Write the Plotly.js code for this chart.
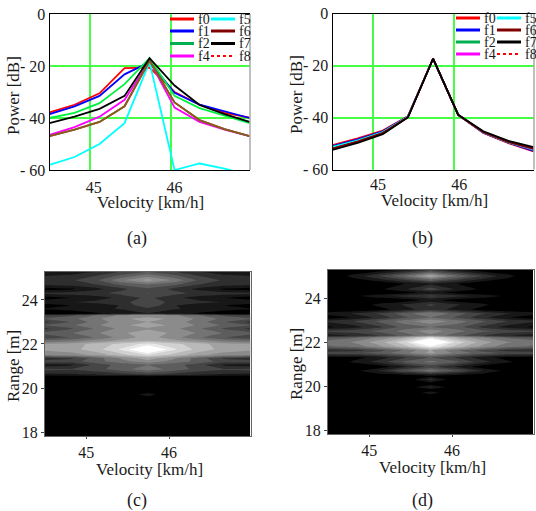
<!DOCTYPE html>
<html><head><meta charset="utf-8">
<script src="https://cdn.plot.ly/plotly-3.0.1.min.js"></script>
<style>html,body{margin:0;padding:0;background:#fff}</style></head>
<body><div id="chart" style="width:536px;height:511px"></div>
<script>
const velocity = [44.5,44.81,45.12,45.43,45.74,46.05,46.36,46.67,46.98];
const seriesNames = ['f0','f1','f2','f4','f5','f6','f8','f7'];
const legendColors = ['#ff0000','#0000ff','#00b050','#ff00ff','#00ffff','#800000','#ff0000','#000000'];
const lineColors = ['#ff0000','#0000ff','#00f040','#ff00ff','#00ffff','#8a5a20','#8a5a20','#000000'];
const legendOrder = ['f0','f5','f1','f6','f2','f7','f4','f8'];
const a_f0 = [-37.8,-34.9,-30.5,-20.8,-20.6,-30,-34.9,-38,-39.9];
const a_f1 = [-38.5,-35.5,-31.5,-23.2,-18.5,-30.3,-34.9,-37.5,-40];
const a_f2 = [-40,-38,-34.3,-27,-17,-31.5,-36.2,-39.2,-42];
const a_f4 = [-46.5,-43.5,-39.5,-33,-18,-36,-41.5,-44.5,-47];
const a_f5 = [-58,-55,-50,-42,-18.5,-60,-57.5,-59.5,-62];
const a_f6 = [-47,-44.5,-41.5,-35.5,-18,-34,-40.8,-44.3,-47];
const a_f8 = [-47,-44.5,-41.5,-35.5,-18,-34,-40.8,-44.3,-47];
const a_f7 = [-42,-39.5,-36.5,-31.5,-17,-27.5,-35,-38.5,-41.5];
const b_f0 = [-50.6,-48,-45,-39.5,-17.4,-39,-45.9,-49.9,-53];
const b_f1 = [-51,-48.4,-45.3,-39.6,-17.4,-39,-45.8,-49.7,-52.8];
const b_f2 = [-51.3,-48.8,-45.6,-39.7,-17.4,-39,-45.7,-49.6,-52.5];
const b_f4 = [-51.6,-49,-45.8,-39.8,-17.4,-39,-45.7,-49.5,-52.4];
const b_f5 = [-51.4,-48.9,-45.7,-39.7,-17.4,-39,-45.7,-49.5,-52.2];
const b_f6 = [-52,-49.3,-46,-39.9,-17.4,-39,-45.6,-49.4,-52];
const b_f8 = [-52,-49.3,-46,-39.9,-17.4,-39,-45.6,-49.4,-52];
const b_f7 = [-52.5,-49.8,-46.4,-40,-17.4,-38.9,-45.3,-49,-51.4];
const powerTickVals = [0,-20,-40,-60];
const powerTickText = ['0','- 20','- 40','- 60'];
const velocityTicks = [45,46];
const rangeTicks = [18,20,22,24];
const captions = ['(a)','(b)','(c)','(d)'];

const c_range = [17.8,19.5,19.7,19.9,20.5,20.62,20.85,21.05,21.2,21.35,21.5,21.75,22.0,22.15,22.3,22.5,22.7,22.85,23.0,23.15,23.3,23.38,23.6,23.75,23.9,24.1,24.3,24.5,24.7,24.9,25.1,25.3];
const c_z = [
[0,0,0,0,0,0,0,0,0],
[0,0,0,0,0,0,0,0,0],
[0,0,0,0,32,0,0,0,0],
[0,0,0,0,0,0,0,0,0],
[0,0,0,0,0,0,0,0,0],
[38,40,48,58,72,58,48,40,38],
[72,68,80,105,125,105,80,68,72],
[30,38,75,100,112,100,75,38,30],
[78,78,105,125,150,125,105,78,78],
[50,62,100,140,170,140,100,62,50],
[135,145,165,195,225,195,165,145,135],
[165,172,195,232,300,232,195,172,165],
[160,168,190,212,235,212,190,168,160],
[115,125,145,165,180,165,145,125,115],
[72,90,115,145,168,145,115,90,72],
[98,110,132,155,168,155,132,110,98],
[60,85,115,142,155,142,115,85,60],
[92,108,132,152,172,152,132,108,92],
[60,90,122,148,158,148,122,90,60],
[92,105,130,155,165,155,130,105,92],
[70,82,112,140,150,140,112,82,70],
[0,8,16,28,42,28,16,8,0],
[22,26,36,46,60,46,36,26,22],
[8,20,30,45,85,45,30,20,8],
[36,42,50,62,75,62,50,42,36],
[8,20,32,50,72,50,32,20,8],
[50,54,60,75,90,75,60,54,50],
[8,16,36,60,85,60,36,16,8],
[48,54,66,95,112,95,66,54,48],
[58,62,85,132,165,132,85,62,58],
[42,48,66,96,125,96,66,48,42],
[18,24,42,66,85,66,42,24,18]
];

const d_range = [17.8,19.5,19.7,19.82,19.95,20.1,20.3,20.45,20.7,20.88,21.1,21.3,21.5,21.62,21.8,22.0,22.2,22.3,22.5,22.68,22.95,23.12,23.3,23.48,23.7,23.9,24.1,24.25,24.4,24.65,25.0,25.3];
const d_z = [
[0,0,0,0,0,0,0,0,0],
[0,0,0,0,0,0,0,0,0],
[0,0,0,0,30,0,0,0,0],
[0,0,0,0,5,0,0,0,0],
[0,0,0,0,48,0,0,0,0],
[0,0,0,0,5,0,0,0,0],
[0,0,0,0,52,0,0,0,0],
[0,0,0,0,10,0,0,0,0],
[0,12,45,88,125,88,45,12,0],
[0,0,5,40,72,40,5,0,0],
[0,25,55,95,120,95,55,25,0],
[5,10,30,62,90,62,30,10,5],
[85,85,102,130,165,130,102,85,85],
[50,56,80,115,160,115,80,56,50],
[108,120,152,195,250,195,152,120,108],
[125,138,172,222,320,222,172,138,125],
[95,108,140,178,235,178,140,108,95],
[32,44,66,98,130,98,66,44,32],
[72,80,98,122,150,122,98,80,72],
[15,32,60,98,112,98,60,32,15],
[50,66,95,125,155,125,95,66,50],
[5,22,50,85,112,85,50,22,5],
[30,46,70,102,135,102,70,46,30],
[0,0,10,34,56,34,10,0,0],
[0,0,28,46,70,46,28,0,0],
[0,0,0,8,28,8,0,0,0],
[0,16,36,52,72,52,36,16,0],
[0,0,0,10,28,10,0,0,0],
[0,0,16,42,80,42,16,0,0],
[0,0,0,20,38,20,0,0,0],
[0,28,68,115,180,115,68,28,0],
[0,0,0,22,55,22,0,0,0]
];

const W=536,H=511;
const serif='"Liberation Serif","Times New Roman",serif';
const grid={a:[49.5,250,14,170],b:[332.5,534,13.5,169.5],c:[45,251,272,436],d:[328,534,269.5,434]};
const dom=(g)=>({x:[g[0]/W,g[1]/W],y:[1-g[3]/H,1-g[2]/H]});
const tickFont={family:serif,size:16,color:'#1a1a1a'};
const titleFont={family:serif,size:17,color:'#1a1a1a'};

function lineAxes(g,xshift,standoff){
  const d=dom(g);
  return [{domain:d.x,range:[44.5,46.985],tickvals:velocityTicks,ticktext:velocityTicks.map(String),ticks:'',showgrid:true,gridcolor:'#44ff44',gridwidth:1.5,zeroline:false,showline:true,mirror:true,linecolor:'#000',linewidth:1,tickfont:tickFont,ticklabelshift:xshift,ticklabelstandoff:standoff},
  {domain:d.y,range:[-60,0],tickvals:powerTickVals,ticktext:powerTickText,ticks:'',showgrid:true,gridcolor:'#44ff44',gridwidth:1.5,zeroline:false,showline:true,linecolor:'#000',linewidth:1,tickfont:tickFont,ticklabelstandoff:0}];
}
function mapAxes(g,yr){
  const d=dom(g);
  return [{domain:d.x,range:[44.5,46.99],tickvals:velocityTicks,ticktext:velocityTicks.map(String),ticks:'outside',ticklen:2,tickcolor:'#444',showgrid:false,zeroline:false,showline:true,mirror:true,linecolor:'#666',linewidth:1,tickfont:tickFont},
  {domain:d.y,range:yr,tickvals:rangeTicks,ticktext:rangeTicks.map(String),ticks:'outside',ticklen:3,tickcolor:'#444',showgrid:false,zeroline:false,showline:true,mirror:true,linecolor:'#666',linewidth:1,tickfont:tickFont}];
}
const [xa,ya]=lineAxes(grid.a,4,3),[xb,yb]=lineAxes(grid.b,5,0),[xc,yc]=mapAxes(grid.c,[17.82,25.27]),[xd,yd]=mapAxes(grid.d,[17.82,25.3]);

const aData=[a_f0,a_f1,a_f2,a_f4,a_f5,a_f6,a_f8,a_f7];
const bData=[b_f0,b_f1,b_f2,b_f4,b_f5,b_f6,b_f8,b_f7];
const traces=[];
function addLines(data,xn,yn,colors){
  seriesNames.forEach((n,i)=>traces.push({type:'scatter',mode:'lines',x:velocity,y:data[i],name:n,xaxis:xn,yaxis:yn,showlegend:false,
    line:{color:colors[i],width:1.8,dash:'solid'}}));
}
addLines(aData,'x','y',lineColors);
addLines(bData,'x2','y2',legendColors.map((c,i)=>seriesNames[i]==='f8'?'#800000':c));
function addMap(r,z,xn,yn){
  traces.push({type:'contour',x:velocity,y:r,z:z,xaxis:xn,yaxis:yn,showscale:false,zmin:0,zmax:255,autocontour:false,
   contours:{coloring:'fill',start:20,end:250,size:23,showlines:false},line:{width:0,smoothing:0},
   colorscale:[[0,'#000000'],[1,'#ffffff']]});
}
addMap(c_range,c_z,'x3','y3');
addMap(d_range,d_z,'x4','y4');
const shapes=[],annotations=[];
function legend(col1,col2,rows){
  legendOrder.forEach((n,i)=>{
    const cx=(i%2===0)?col1:col2, y=rows[Math.floor(i/2)], k=seriesNames.indexOf(n);
    shapes.push({type:'line',xref:'paper',yref:'paper',x0:cx/W,x1:(cx+24)/W,y0:1-y/H,y1:1-y/H,
      line:{color:legendColors[k],width:n==='f8'?2:3,dash:n==='f8'?'dot':'solid'}});
    annotations.push({xref:'paper',yref:'paper',x:(cx+27)/W,y:1-y/H,xanchor:'left',yanchor:'middle',text:n,showarrow:false,borderpad:0,font:{family:serif,size:14,color:'#1a1a1a'}});
  });
}
legend(170,211,[19,31,43.5,56]);
legend(456,497,[18,30,42,54]);
[grid.a,grid.b].forEach(g=>shapes.push({type:'line',xref:'paper',yref:'paper',x0:g[1]/W,x1:g[1]/W,y0:1-g[3]/H,y1:1-g[2]/H,line:{color:'#aaaaaa',width:1.5}}));
function label(text,x,y,f,angle){annotations.push({xref:'paper',yref:'paper',x:x/W,y:1-y/H,xanchor:'center',yanchor:'middle',text:text,textangle:angle||0,showarrow:false,borderpad:0,font:f});}
[[137,238],[422,238],[137,500],[422,500]].forEach((p,i)=>label(captions[i],p[0],p[1],{family:serif,size:18,color:'#1a1a1a'}));
[[150,202],[434,200],[149,469],[432,467]].forEach(p=>label('Velocity [km/h]',p[0],p[1],titleFont));
[[13,96],[296,95]].forEach(p=>label('Power [dB]',p[0],p[1],titleFont,-90));
[[13,366],[296,364]].forEach(p=>label('Range [m]',p[0],p[1],titleFont,-90));

Plotly.newPlot('chart',traces,{width:W,height:H,margin:{l:0,r:0,t:0,b:0},paper_bgcolor:'#fff',plot_bgcolor:'#fff',showlegend:false,
 xaxis:xa,yaxis:ya,xaxis2:Object.assign(xb,{anchor:'y2'}),yaxis2:Object.assign(yb,{anchor:'x2'}),
 xaxis3:Object.assign(xc,{anchor:'y3'}),yaxis3:Object.assign(yc,{anchor:'x3'}),xaxis4:Object.assign(xd,{anchor:'y4'}),yaxis4:Object.assign(yd,{anchor:'x4'}),
 shapes:shapes,annotations:annotations},{displayModeBar:false,responsive:false});
</script></body></html>
